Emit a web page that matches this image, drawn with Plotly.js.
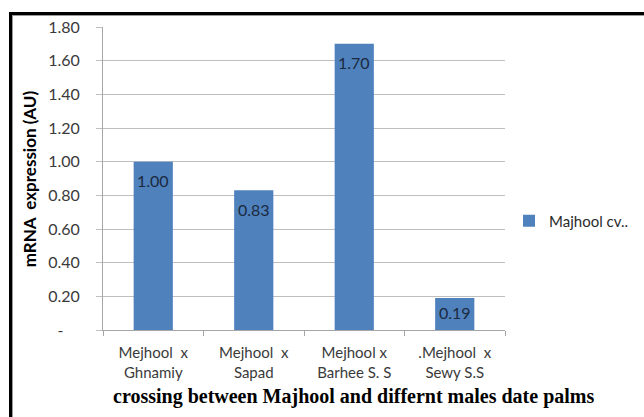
<!DOCTYPE html>
<html>
<head>
<meta charset="utf-8">
<script src="https://cdn.plot.ly/plotly-3.0.1.min.js"></script>
<style>
  html, body { margin: 0; padding: 0; background: #fff; overflow: hidden; }
  #wrap { position: relative; width: 644px; height: 417px; }
  #chart { position: absolute; left: 0; top: 0; width: 644px; height: 417px; }
  #frame {
    position: absolute; left: 9px; top: 12px; width: 700px; height: 500px;
    border-top: 3px solid #000; border-left: 3px solid #000;
    box-shadow: inset 1px 1px 0 #9a9a9a;
    pointer-events: none;
  }
</style>
</head>
<body>
<div id="wrap">
  <div id="chart"></div>
  <div id="frame"></div>
</div>
<script>
// Crosses of Majhool females with different male date palms
const NB = '\u00a0';
const crosses = [
  'Mejhool' + NB + NB + 'x<br>Ghnamiy',
  'Mejhool' + NB + NB + 'x<br>Sapad',
  'Mejhool x<br>Barhee S. S',
  '.Mejhool' + NB + NB + 'x<br>Sewy S.S'
];
const expression = [1.00, 0.83, 1.70, 0.19];
const seriesName = 'Majhool cv..';

const yTickVals = [0, 0.2, 0.4, 0.6, 0.8, 1.0, 1.2, 1.4, 1.6, 1.8];
const yTickText = ['-' + NB + NB + NB + NB, '0.20', '0.40', '0.60', '0.80', '1.00', '1.20', '1.40', '1.60', '1.80'];

const xTitle = 'crossing between Majhool and differnt males date palms';
const yTitle = 'mRNA' + NB + NB + 'expression (AU)';

const sansFont = 'Lato, "Open Sans", sans-serif';
const textGrey = '#3a3a3a';

// value labels sit just below the top of each bar
const pxPerUnit = 303 / 1.8;
const labels = expression.map((v, i) => ({
  x: crosses[i], y: v, xref: 'x', yref: 'y',
  text: v.toFixed(2), showarrow: false,
  yanchor: 'middle',
  yshift: -Math.min(19, v * pxPerUnit / 2 - 2),
  font: { family: sansFont, size: 16, color: '#1b2a3e' }
}));

const data = [{
  type: 'bar',
  x: crosses,
  y: expression,
  name: seriesName,
  marker: { color: '#4f81bd' },
  width: 0.39,
  showlegend: true,
  hoverinfo: 'x+y'
}];

const layout = {
  width: 644, height: 417,
  margin: { l: 103, r: 139, t: 27, b: 87, autoexpand: false },
  paper_bgcolor: '#fff', plot_bgcolor: '#fff',
  font: { family: sansFont, color: textGrey },
  showlegend: true,
  legend: {
    x: 1.01, xanchor: 'left', y: 0.36, yanchor: 'middle',
    font: { family: sansFont, size: 15, color: '#2a2a2a' },
    itemwidth: 30
  },
  xaxis: {
    type: 'category',
    showgrid: false,
    showline: true, linecolor: '#a6a6a6', linewidth: 1,
    ticks: 'outside', tickson: 'boundaries', ticklen: 5, tickcolor: '#a6a6a6',
    ticklabelstandoff: 9,
    tickfont: { family: sansFont, size: 15, color: textGrey },
    zeroline: false, fixedrange: true
  },
  yaxis: {
    range: [0, 1.8],
    tickvals: yTickVals, ticktext: yTickText,
    showgrid: true, gridcolor: '#bfbfbf', gridwidth: 1,
    showline: true, linecolor: '#a6a6a6', linewidth: 1,
    ticks: 'outside', ticklen: 6, tickcolor: '#bfbfbf',
    ticklabelstandoff: 13,
    tickfont: { family: sansFont, size: 16, color: textGrey },
    zeroline: false, fixedrange: true
  },
  annotations: labels.concat([
    {
      text: '<b>' + xTitle + '</b>', xref: 'paper', yref: 'paper',
      x: 0.622, y: -0.221, xanchor: 'center', yanchor: 'middle', showarrow: false,
      font: { family: '"Liberation Serif", "DejaVu Serif", serif', size: 20, color: '#000' }
    },
    {
      text: '<b>' + yTitle + '</b>', xref: 'paper', yref: 'paper',
      x: -0.182, y: 0.5, xanchor: 'center', yanchor: 'middle', showarrow: false,
      textangle: -90,
      font: { family: sansFont, size: 17, color: '#000' }
    }
  ])
};

Plotly.newPlot('chart', data, layout, { displayModeBar: false, staticPlot: true });
</script>
</body>
</html>
